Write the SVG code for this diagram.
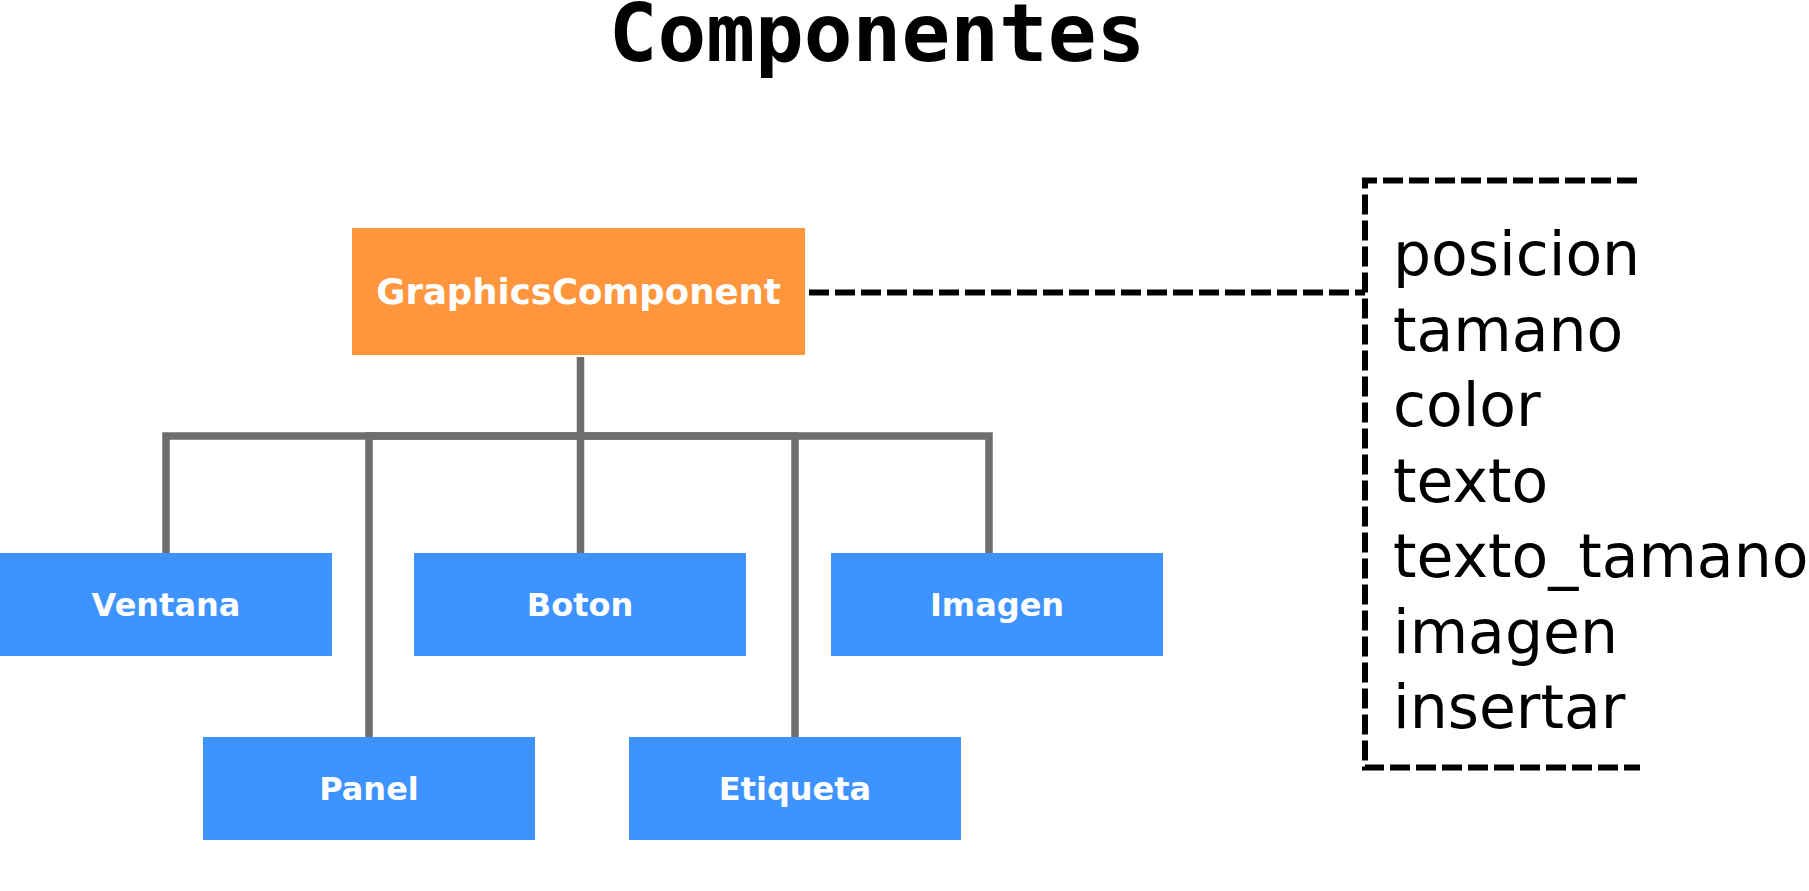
<svg xmlns="http://www.w3.org/2000/svg" width="1809" height="891" viewBox="0 0 1809 891">
  <style>
    .title { font-family: "DejaVu Sans Mono", "Liberation Mono", monospace; font-weight: bold; font-size: 81px; fill: #000; }
    .root rect { fill: #FF963E; }
    .child rect { fill: #3D93FF; }
    .lbl { font-family: "DejaVu Sans", "Liberation Sans", sans-serif; font-weight: bold; fill: #fff; text-anchor: middle; }
    .attr { font-family: "DejaVu Sans", "Liberation Sans", sans-serif; font-size: 60px; fill: #000; }
    .tree { fill: none; stroke: #6E6E6E; stroke-width: 7.5; stroke-linejoin: miter; }
    .dash { fill: none; stroke: #000; stroke-width: 6; stroke-dasharray: 20 6; }
  </style>
  <rect width="1809" height="891" fill="#fff"/>
  <text class="title" x="877" y="61" text-anchor="middle">Componentes</text>

  <g id="connectors">
    <path class="tree" d="M580.5,357 V436 H166 V553"/>
    <path class="tree" d="M580.5,436 H369 V737"/>
    <path class="tree" d="M580.5,436 V553"/>
    <path class="tree" d="M580.5,436 H795 V737"/>
    <path class="tree" d="M580.5,436 H989 V553"/>
    <path class="dash" d="M809,292.5 H1365"/>
  </g>

  <g id="GraphicsComponent" class="root">
    <rect x="352" y="228" width="453" height="127"/>
    <text class="lbl" x="578.5" y="304" font-size="35.5">GraphicsComponent</text>
  </g>
  <g id="Ventana" class="child">
    <rect x="0" y="553" width="332" height="103"/>
    <text class="lbl" x="166" y="616" font-size="32">Ventana</text>
  </g>
  <g id="Boton" class="child">
    <rect x="414" y="553" width="332" height="103"/>
    <text class="lbl" x="580" y="616" font-size="32">Boton</text>
  </g>
  <g id="Imagen" class="child">
    <rect x="831" y="553" width="332" height="103"/>
    <text class="lbl" x="997" y="616" font-size="32">Imagen</text>
  </g>
  <g id="Panel" class="child">
    <rect x="203" y="737" width="332" height="103"/>
    <text class="lbl" x="369" y="800" font-size="32">Panel</text>
  </g>
  <g id="Etiqueta" class="child">
    <rect x="629" y="737" width="332" height="103"/>
    <text class="lbl" x="795" y="800" font-size="32">Etiqueta</text>
  </g>

  <g id="Atributos">
    <path class="dash" d="M1637,180.5 H1365 V767.5 H1640"/>
    <text class="attr" x="1393" y="275">posicion</text>
    <text class="attr" x="1393" y="350.5">tamano</text>
    <text class="attr" x="1393" y="426">color</text>
    <text class="attr" x="1393" y="501.5">texto</text>
    <text class="attr" x="1393" y="577">texto_tamano</text>
    <text class="attr" x="1393" y="652.5">imagen</text>
    <text class="attr" x="1393" y="728">insertar</text>
  </g>
</svg>
